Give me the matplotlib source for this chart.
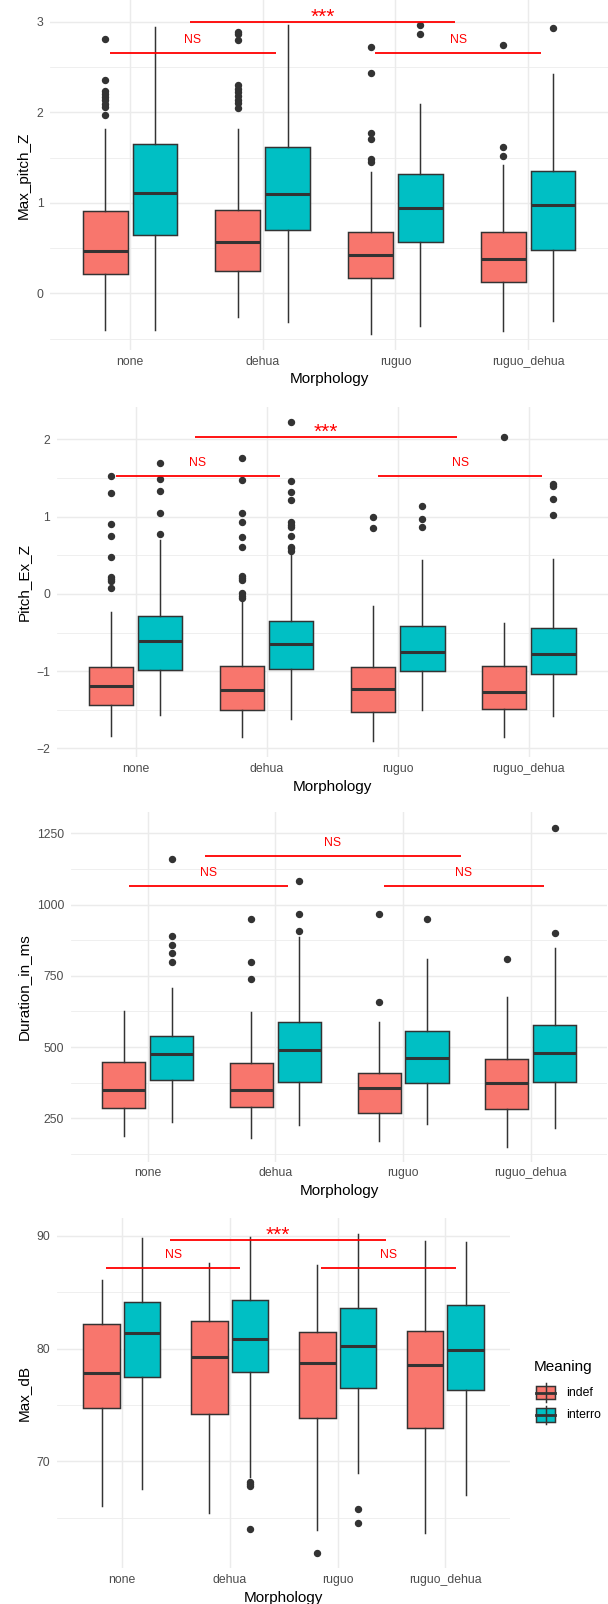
import matplotlib
matplotlib.use('Agg')
import matplotlib.pyplot as plt
from matplotlib.patches import Rectangle
from matplotlib.ticker import FixedLocator, NullFormatter

plt.rcParams['font.family'] = ['Liberation Sans', 'DejaVu Sans']

W, H, DPI = 608, 1604, 100

morphology = ['none', 'dehua', 'ruguo', 'ruguo_dehua']
meaning = ['indef', 'interro']
fill_colors = ['#F8766D', '#00BFC4']

# (lower whisker, q1, median, q3, upper whisker) for each morphology
max_pitch_indef = [(-0.41, 0.217, 0.463, 0.91, 1.82), (-0.26, 0.25, 0.57, 0.92, 1.82),
                   (-0.45, 0.169, 0.419, 0.676, 1.34), (-0.42, 0.125, 0.38, 0.68, 1.42)]
max_pitch_interro = [(-0.40, 0.643, 1.11, 1.65, 2.94), (-0.32, 0.705, 1.10, 1.62, 2.96),
                     (-0.356, 0.562, 0.944, 1.32, 2.09), (-0.31, 0.474, 0.977, 1.355, 2.42)]
max_pitch_indef_out = [[2.81, 2.36, 2.23, 2.20, 2.17, 2.13, 2.09, 2.06, 1.97],
                       [2.89, 2.86, 2.80, 2.30, 2.26, 2.22, 2.18, 2.14, 2.10, 2.05],
                       [2.72, 2.43, 1.77, 1.70, 1.48, 1.45],
                       [2.74, 1.62, 1.52]]
max_pitch_interro_out = [[], [], [2.96, 2.86], [2.93]]

pitch_ex_indef = [(-1.836, -1.44, -1.194, -0.944, -0.241), (-1.853, -1.50, -1.25, -0.927, -0.10),
                  (-1.897, -1.522, -1.228, -0.948, -0.159), (-1.853, -1.487, -1.263, -0.927, -0.371)]
pitch_ex_interro = [(-1.569, -0.991, -0.608, -0.289, 0.698), (-1.62, -0.966, -0.651, -0.349, 0.526),
                    (-1.5, -0.996, -0.754, -0.414, 0.435), (-1.578, -1.043, -0.776, -0.444, 0.448)]
pitch_ex_indef_out = [[1.526, 1.30, 0.905, 0.754, 0.474, 0.224, 0.194, 0.16, 0.073],
                      [1.759, 1.478, 1.043, 0.927, 0.741, 0.612, 0.233, 0.203, 0.181, 0.009, -0.03, -0.06],
                      [0.99, 0.849],
                      [2.034]]
pitch_ex_interro_out = [[1.694, 1.483, 1.332, 1.047, 0.78],
                        [2.224, 1.453, 1.319, 1.216, 0.931, 0.884, 0.858, 0.754, 0.612, 0.59, 0.56],
                        [1.134, 0.966, 0.866],
                        [1.418, 1.397, 1.22, 1.022]]

duration_indef = [(189, 285, 348, 449, 628), (180, 290, 351, 443, 623),
                  (170, 267, 355, 408, 588), (149, 284, 373, 459, 677)]
duration_interro = [(238, 384, 476, 539, 708), (225, 379, 491, 588, 887),
                    (230, 374, 460, 556, 808), (217, 379, 478, 577, 849)]
duration_indef_out = [[], [949, 798, 739], [968, 658], [809]]
duration_interro_out = [[1159, 890, 857, 829, 798], [1082, 968, 908], [949], [1270, 899]]

max_db_indef = [(66.04, 74.73, 77.87, 82.22, 86.09), (65.44, 74.23, 79.23, 82.49, 87.57),
                (63.9, 73.82, 78.7, 81.48, 87.43), (63.67, 72.93, 78.52, 81.6, 89.53)]
max_db_interro = [(67.51, 77.46, 81.42, 84.17, 89.82), (68.6, 77.93, 80.86, 84.35, 89.88),
                  (68.99, 76.51, 80.24, 83.61, 90.18), (66.98, 76.3, 79.91, 83.85, 89.5)]
max_db_indef_out = [[], [], [61.86], []]
max_db_interro_out = [[], [68.2, 67.95, 67.8, 64.02], [65.8, 64.56], []]

# significance brackets
sig_xmin = [0.85, 2.85, 1.45]
sig_xmax = [2.1, 4.1, 3.45]
max_pitch_sig_y = [2.66, 2.66, 3.0]
pitch_ex_sig_y = [1.526, 1.526, 2.034]
duration_sig_y = [1066, 1066, 1172]
max_db_sig_y = [87.19, 87.19, 89.67]
star_labels = ['NS', 'NS', '***']
ns_labels = ['NS', 'NS', 'NS']

max_pitch_ticks = [0, 1, 2, 3]
pitch_ex_ticks = [-2, -1, 0, 1, 2]
duration_ticks = [250, 500, 750, 1000, 1250]
max_db_ticks = [70, 80, 90]

# name, stats, outliers, sig y, sig labels, ticks, ylim, box in px (left, top, right, bottom)
panels = [
    ('Max_pitch_Z', (max_pitch_indef, max_pitch_interro), (max_pitch_indef_out, max_pitch_interro_out),
     max_pitch_sig_y, star_labels, max_pitch_ticks, (-0.626, 3.24), (50.4, 0, 607.7, 350)),
    ('Pitch_Ex_Z', (pitch_ex_indef, pitch_ex_interro), (pitch_ex_indef_out, pitch_ex_interro_out),
     pitch_ex_sig_y, star_labels, pitch_ex_ticks, (-2.11, 2.42), (57.1, 406.7, 607.5, 757)),
    ('Duration_in_ms', (duration_indef, duration_interro), (duration_indef_out, duration_interro_out),
     duration_sig_y, ns_labels, duration_ticks, (97.7, 1323.7), (71.1, 812.3, 607.4, 1161.7)),
    ('Max_dB', (max_db_indef, max_db_interro), (max_db_indef_out, max_db_interro_out),
     max_db_sig_y, star_labels, max_db_ticks, (60.5, 91.57), (57.1, 1218.3, 510.2, 1568.3)),
]

EDGE = '#333333'
GRID = '#EBEBEB'
RED = '#FF0000'

fig = plt.figure(figsize=(W / DPI, H / DPI), dpi=DPI)
fig.patch.set_facecolor('white')

for name, stats, outs, sig_y, labels, ticks, ylim, box in panels:
    left, top, right, bottom = box
    ax = fig.add_axes([left / W, 1 - bottom / H, (right - left) / W, (bottom - top) / H])
    for spine in ax.spines.values():
        spine.set_visible(False)

    positions = list(range(1, len(morphology) + 1))
    for k, (group_stats, group_out) in enumerate(zip(stats, outs)):
        offset = -0.1875 if k == 0 else 0.1875
        bstats = []
        for (lo, q1, med, q3, hi), fl in zip(group_stats, group_out):
            bstats.append({'whislo': lo, 'q1': q1, 'med': med, 'q3': q3, 'whishi': hi, 'fliers': fl})
        ax.bxp(bstats, positions=[p + offset for p in positions], widths=0.3375,
               patch_artist=True, showcaps=False, manage_ticks=False,
               boxprops=dict(facecolor=fill_colors[k], edgecolor=EDGE, linewidth=1.07),
               medianprops=dict(color=EDGE, linewidth=2.2),
               whiskerprops=dict(color=EDGE, linewidth=1.07),
               flierprops=dict(marker='o', markerfacecolor=EDGE, markeredgecolor=EDGE,
                               markersize=4.3, linestyle='none'))

    ax.set_xlim(0.4, 4.6)
    ax.set_ylim(*ylim)
    step = ticks[1] - ticks[0]
    minor = [t - step / 2 for t in ticks] + [ticks[-1] + step / 2]
    ax.set_xticks(positions)
    ax.set_xticklabels(morphology)
    ax.set_yticks(ticks)
    ax.yaxis.set_minor_locator(FixedLocator(minor))
    ax.yaxis.set_minor_formatter(NullFormatter())
    ax.tick_params(which='both', length=0, labelsize=8.8, labelcolor='#4D4D4D')
    ax.tick_params(axis='x', pad=4)
    ax.tick_params(axis='y', pad=5)
    ax.grid(which='major', color=GRID, linewidth=1.07)
    ax.grid(which='minor', axis='y', color=GRID, linewidth=0.55)
    ax.set_axisbelow(True)

    for x0, x1, y, lab in zip(sig_xmin, sig_xmax, sig_y, labels):
        ax.plot([x0, x1], [y, y], color=RED, linewidth=1.3, solid_capstyle='butt', clip_on=False)
        if lab == '***':
            ax.annotate(lab, ((x0 + x1) / 2, y), xytext=(0, -0.6), textcoords='offset points',
                        ha='center', va='baseline', color=RED, fontsize=15, annotation_clip=False)
        else:
            ax.annotate(lab, ((x0 + x1) / 2, y), xytext=(0, 7.2), textcoords='offset points',
                        ha='center', va='baseline', color=RED, fontsize=8.8, annotation_clip=False)

    ax.set_ylabel(name, fontsize=11, color='black', va='center')
    ax.yaxis.set_label_coords((24 - left) / (right - left), 0.5)
    ax.set_xlabel('Morphology', fontsize=11, color='black', va='center')
    ax.xaxis.set_label_coords(0.5, -29.5 / (bottom - top))

# legend drawn in pixel space
lg = fig.add_axes([0, 0, 1, 1])
lg.set_xlim(0, W)
lg.set_ylim(H, 0)
lg.axis('off')
lg.patch.set_alpha(0)
lg.text(533.3, 1366.7, 'Meaning', fontsize=11, ha='left', va='center', color='black')
key_centers = [1392.7, 1415.0]
for k, (label, yc) in enumerate(zip(meaning, key_centers)):
    xc = 545.5
    lg.plot([xc, xc], [yc - 9.3, yc + 9.3], color=EDGE, linewidth=1.07)
    lg.add_patch(Rectangle((536, yc - 6.6), 19, 13.2, facecolor=fill_colors[k],
                           edgecolor=EDGE, linewidth=1.07))
    lg.plot([536, 555], [yc, yc], color=EDGE, linewidth=2.0)
    lg.text(565.7, yc, label, fontsize=8.8, ha='left', va='center', color='black')

fig.savefig('out.png', dpi=DPI, facecolor='white')
